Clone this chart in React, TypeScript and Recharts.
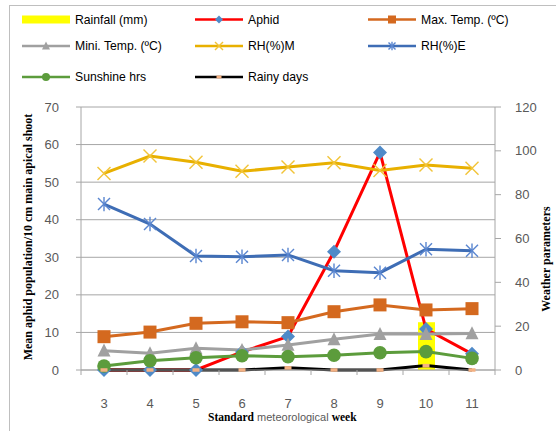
import React from "react";
import { ComposedChart, Line, Bar, XAxis, YAxis, CartesianGrid } from "recharts";

const weeks = [3, 4, 5, 6, 7, 8, 9, 10, 11];
const rainfall = [0, 0, 0, 0, 0, 0, 0, 21.8, 0];
const aphid = [0, 0, 0, 4.8, 8.9, 31.5, 57.9, 10.9, 4.3];
const maxTemp = [15.2, 17.3, 21.3, 22.0, 21.6, 26.6, 29.7, 27.4, 28.0];
const miniTemp = [8.8, 7.6, 9.9, 9.1, 11.4, 14.0, 16.4, 16.4, 16.7];
const rhM = [89.7, 97.6, 94.8, 90.7, 92.6, 94.6, 91.0, 93.5, 92.1];
const rhE = [75.7, 66.6, 52.0, 51.7, 52.5, 45.3, 44.4, 55.1, 54.4];
const sunshine = [1.8, 4.2, 5.6, 6.5, 6.1, 6.7, 7.9, 8.4, 5.3];
const rainyDays = [0, 0, 0, 0, 1, 0, 0, 2, 0];

const leftTicks = [0, 10, 20, 30, 40, 50, 60, 70];
const rightTicks = [0, 20, 40, 60, 80, 100, 120];
const xTicks = [2.5, 3, 3.5, 4, 4.5, 5, 5.5, 6, 6.5, 7, 7.5, 8, 8.5, 9, 9.5, 10, 10.5, 11, 11.5];

const data = weeks.map((w, i) => ({
  week: w,
  rainfall: rainfall[i],
  aphid: aphid[i],
  maxTemp: maxTemp[i],
  miniTemp: miniTemp[i],
  rhM: rhM[i],
  rhE: rhE[i],
  sunshine: sunshine[i],
  rainyDays: rainyDays[i],
}));

const C = {
  rain: "#ffff00",
  aphidLine: "#ff0000",
  aphidDot: "#4f8ac8",
  max: "#d4691f",
  min: "#a0a0a0",
  rhM: "#e8b000",
  rhMDot: "#f2c438",
  rhE: "#3e6db5",
  rhEDot: "#5a86d0",
  sun: "#5c9c3c",
  rainy: "#000000",
  rainyDot: "#f4b183",
  grid: "#a6a6a6",
  tick: "#595959",
};

const SANS = "'Liberation Sans', Arial, sans-serif";
const SERIF = "'Liberation Serif', 'Times New Roman', serif";

type Shape = (cx: number, cy: number, k?: any) => React.ReactElement;

const diamondS = (s: number): Shape => (cx, cy, k) => (
  <path key={k} d={`M${cx},${cy - s}L${cx + s},${cy}L${cx},${cy + s}L${cx - s},${cy}Z`} fill={C.aphidDot} />
);
const squareS = (s: number): Shape => (cx, cy, k) => (
  <rect key={k} x={cx - s / 2} y={cy - s / 2} width={s} height={s} fill={C.max} />
);
const triS = (s: number): Shape => (cx, cy, k) => (
  <path key={k} d={`M${cx},${cy - s * 0.55}L${cx + s / 2},${cy + s * 0.45}L${cx - s / 2},${cy + s * 0.45}Z`} fill={C.min} />
);
const xS = (s: number): Shape => (cx, cy, k) => (
  <g key={k} stroke={C.rhMDot} strokeWidth={1.4}>
    <line x1={cx - s} y1={cy - s} x2={cx + s} y2={cy + s} />
    <line x1={cx - s} y1={cy + s} x2={cx + s} y2={cy - s} />
  </g>
);
const starS = (s: number): Shape => (cx, cy, k) => (
  <g key={k} stroke={C.rhEDot} strokeWidth={1.4}>
    <line x1={cx - s} y1={cy - s} x2={cx + s} y2={cy + s} />
    <line x1={cx - s} y1={cy + s} x2={cx + s} y2={cy - s} />
    <line x1={cx} y1={cy - s * 1.2} x2={cx} y2={cy + s * 1.2} />
  </g>
);
const circleS = (r: number): Shape => (cx, cy, k) => <circle key={k} cx={cx} cy={cy} r={r} fill={C.sun} />;
const dashS = (w: number, h: number): Shape => (cx, cy, k) => (
  <rect key={k} x={cx - w / 2} y={cy - h / 2} width={w} height={h} fill={C.rainyDot} />
);

const dotOf = (sh: Shape) => (p: any) => {
  if (p.cx == null || p.cy == null) return <g key={p.index} />;
  return sh(p.cx, p.cy, p.index);
};

const XTick = (props: any) => {
  const { x, y, payload } = props;
  const v = payload.value;
  if (Math.abs(v - Math.round(v)) < 1e-6) {
    return (
      <text x={x} y={y + 33} textAnchor="middle" dominantBaseline="central" fontSize={13} fill={C.tick} fontFamily={SANS}>
        {Math.round(v)}
      </text>
    );
  }
  return <line x1={x} x2={x} y1={y} y2={y + 5} stroke={C.grid} strokeWidth={1} />;
};

const legendItems: { label: string; x: number; y: number; line?: string; shape?: Shape; bar?: boolean }[] = [
  { label: "Rainfall (mm)", x: 22, y: 19.5, bar: true },
  { label: "Aphid", x: 195, y: 19.5, line: C.aphidLine, shape: diamondS(4) },
  { label: "Max. Temp. (ºC)", x: 368, y: 19.5, line: C.max, shape: squareS(8) },
  { label: "Mini. Temp. (ºC)", x: 22, y: 46, line: C.min, shape: triS(8) },
  { label: "RH(%)M", x: 195, y: 46, line: C.rhM, shape: xS(4) },
  { label: "RH(%)E", x: 368, y: 46, line: C.rhE, shape: starS(3.5) },
  { label: "Sunshine hrs", x: 22, y: 77, line: C.sun, shape: circleS(4) },
  { label: "Rainy days", x: 195, y: 77, line: C.rainy, shape: dashS(5, 3) },
];

export default function App() {
  return (
    <div style={{ position: "absolute", left: 0, top: 0, width: 556, height: 431, background: "#fff" }}>
      <ComposedChart
        width={556}
        height={431}
        data={data}
        margin={{ top: 107, right: 11, bottom: 21, left: 21 }}
      >
        <CartesianGrid vertical={false} stroke={C.grid} yAxisId="left" />
        <XAxis
          dataKey="week"
          type="number"
          domain={[2.5, 11.5]}
          ticks={xTicks}
          interval={0}
          height={40}
          tickSize={0}
          tickMargin={0}
          tickLine={false}
          axisLine={{ stroke: C.grid }}
          tick={<XTick />}
          allowDataOverflow
        />
        <YAxis
          yAxisId="left"
          domain={[0, 70]}
          ticks={leftTicks}
          width={60}
          tickSize={5}
          tickMargin={17}
          axisLine={{ stroke: C.grid }}
          tickLine={{ stroke: C.grid }}
          tick={{ fontSize: 13, fill: C.tick, fontFamily: SANS }}
          interval={0}
        />
        <YAxis
          yAxisId="right"
          orientation="right"
          domain={[0, 120]}
          ticks={rightTicks}
          width={50}
          tickSize={6}
          tickMargin={14}
          axisLine={{ stroke: C.grid }}
          tickLine={{ stroke: C.grid }}
          tick={{ fontSize: 13, fill: C.tick, fontFamily: SANS, textAnchor: "start" }}
          interval={0}
        />
        <Bar yAxisId="right" dataKey="rainfall" fill={C.rain} barSize={17} isAnimationActive={false} />
        <Line yAxisId="left" dataKey="aphid" stroke={C.aphidLine} strokeWidth={3} dot={dotOf(diamondS(7))} activeDot={false} isAnimationActive={false} />
        <Line yAxisId="right" dataKey="maxTemp" stroke={C.max} strokeWidth={3} dot={dotOf(squareS(13))} activeDot={false} isAnimationActive={false} />
        <Line yAxisId="right" dataKey="miniTemp" stroke={C.min} strokeWidth={3} dot={dotOf(triS(13))} activeDot={false} isAnimationActive={false} />
        <Line yAxisId="right" dataKey="rhM" stroke={C.rhM} strokeWidth={3} dot={dotOf(xS(6.5))} activeDot={false} isAnimationActive={false} />
        <Line yAxisId="right" dataKey="rhE" stroke={C.rhE} strokeWidth={3} dot={dotOf(starS(6))} activeDot={false} isAnimationActive={false} />
        <Line yAxisId="right" dataKey="sunshine" stroke={C.sun} strokeWidth={3} dot={dotOf(circleS(6.8))} activeDot={false} isAnimationActive={false} />
        <Line yAxisId="right" dataKey="rainyDays" stroke={C.rainy} strokeWidth={3} dot={dotOf(dashS(7, 3.5))} activeDot={false} isAnimationActive={false} />
      </ComposedChart>
      <svg width={556} height={431} style={{ position: "absolute", left: 0, top: 0, pointerEvents: "none" }}>
        <rect x={9.5} y={5.5} width={600} height={500} fill="none" stroke="#bfbfbf" strokeWidth={1} />
        {legendItems.map((it, i) => (
          <g key={i}>
            {it.bar ? (
              <rect x={it.x} y={it.y - 4} width={48} height={8} fill={C.rain} />
            ) : (
              <>
                <line x1={it.x} x2={it.x + 48} y1={it.y} y2={it.y} stroke={it.line} strokeWidth={2.5} />
                {it.shape && it.shape(it.x + 24, it.y)}
              </>
            )}
            <text x={it.x + 53} y={it.y} dominantBaseline="central" fontSize={12.2} fill="#000" fontFamily={SANS}>
              {it.label}
            </text>
          </g>
        ))}
        <text
          x={28}
          y={237}
          transform="rotate(-90 28 237)"
          textAnchor="middle"
          dominantBaseline="central"
          fontSize={12}
          fontWeight="bold"
          fontFamily={SERIF}
          fill="#000"
        >
          Mean aphid population/10 cm main apical shoot
        </text>
        <text x={546} y={259} transform="rotate(-90 546 259)" textAnchor="middle" dominantBaseline="central" fontSize={12} fontWeight="bold" fontFamily={SERIF} fill="#000">
          Weather parameters
        </text>
        <text x={208} y={417} dominantBaseline="central" fontSize={11.5} fill="#000">
          <tspan fontWeight="bold" fontFamily={SERIF}>Standard</tspan>
          <tspan fontFamily={SANS} fill="#595959" fontSize={11}> meteorological </tspan>
          <tspan fontWeight="bold" fontFamily={SERIF}> week</tspan>
        </text>
      </svg>
    </div>
  );
}
